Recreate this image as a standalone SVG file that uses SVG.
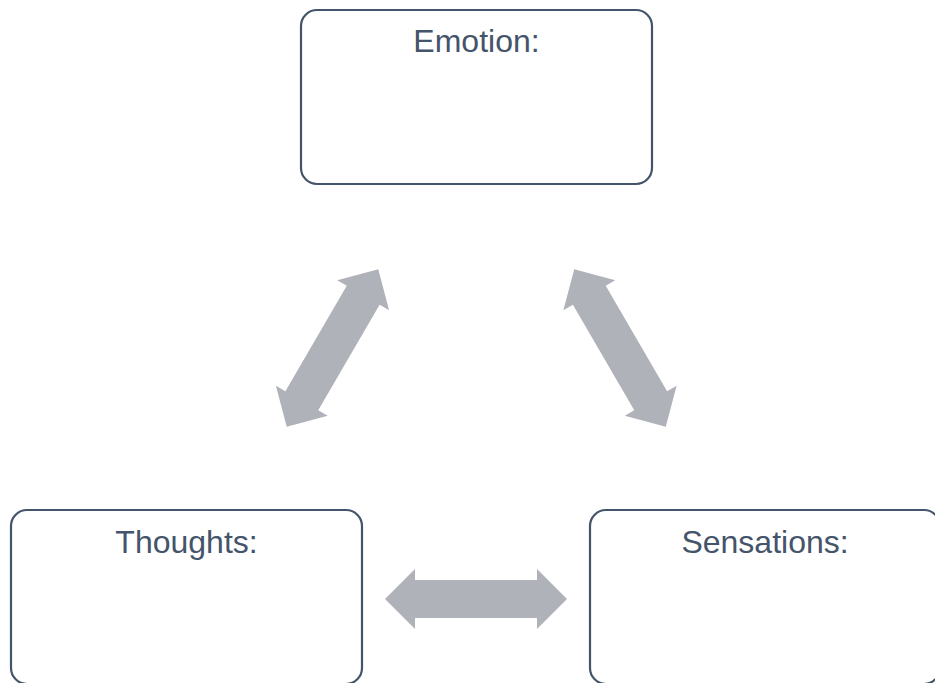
<svg xmlns="http://www.w3.org/2000/svg" width="935" height="683" viewBox="0 0 935 683">
  <defs>
    <style>
      .box { fill: #ffffff; stroke: #44546a; stroke-width: 2.2; }
      .label { font-family: "Liberation Sans", Arial, sans-serif; font-size: 32px; fill: #44546a; text-anchor: middle; }
      .arrow { fill: #afb2b8; }
    </style>
    <path id="dblArrow" d="M -91 0 L -61 -30 L -61 -19 L 61 -19 L 61 -30 L 91 0 L 61 30 L 61 19 L -61 19 L -61 30 Z"/>
  </defs>
  <rect width="935" height="683" fill="#ffffff"/>
  <g id="connectors">
    <use href="#dblArrow" class="arrow" transform="translate(332.5,348) rotate(-59.8)"/>
    <use href="#dblArrow" class="arrow" transform="translate(620,348) rotate(59.8)"/>
    <use href="#dblArrow" class="arrow" transform="translate(476,599)"/>
  </g>
  <g id="emotion">
    <rect class="box" x="301" y="10" width="351" height="174" rx="16" ry="16"/>
    <text class="label" x="476.5" y="52">Emotion:</text>
  </g>
  <g id="thoughts">
    <rect class="box" x="11" y="510" width="351" height="174" rx="16" ry="16"/>
    <text class="label" x="186.5" y="553">Thoughts:</text>
  </g>
  <g id="sensations">
    <rect class="box" x="590" y="510" width="350" height="174" rx="16" ry="16"/>
    <text class="label" x="765" y="553">Sensations:</text>
  </g>
</svg>
